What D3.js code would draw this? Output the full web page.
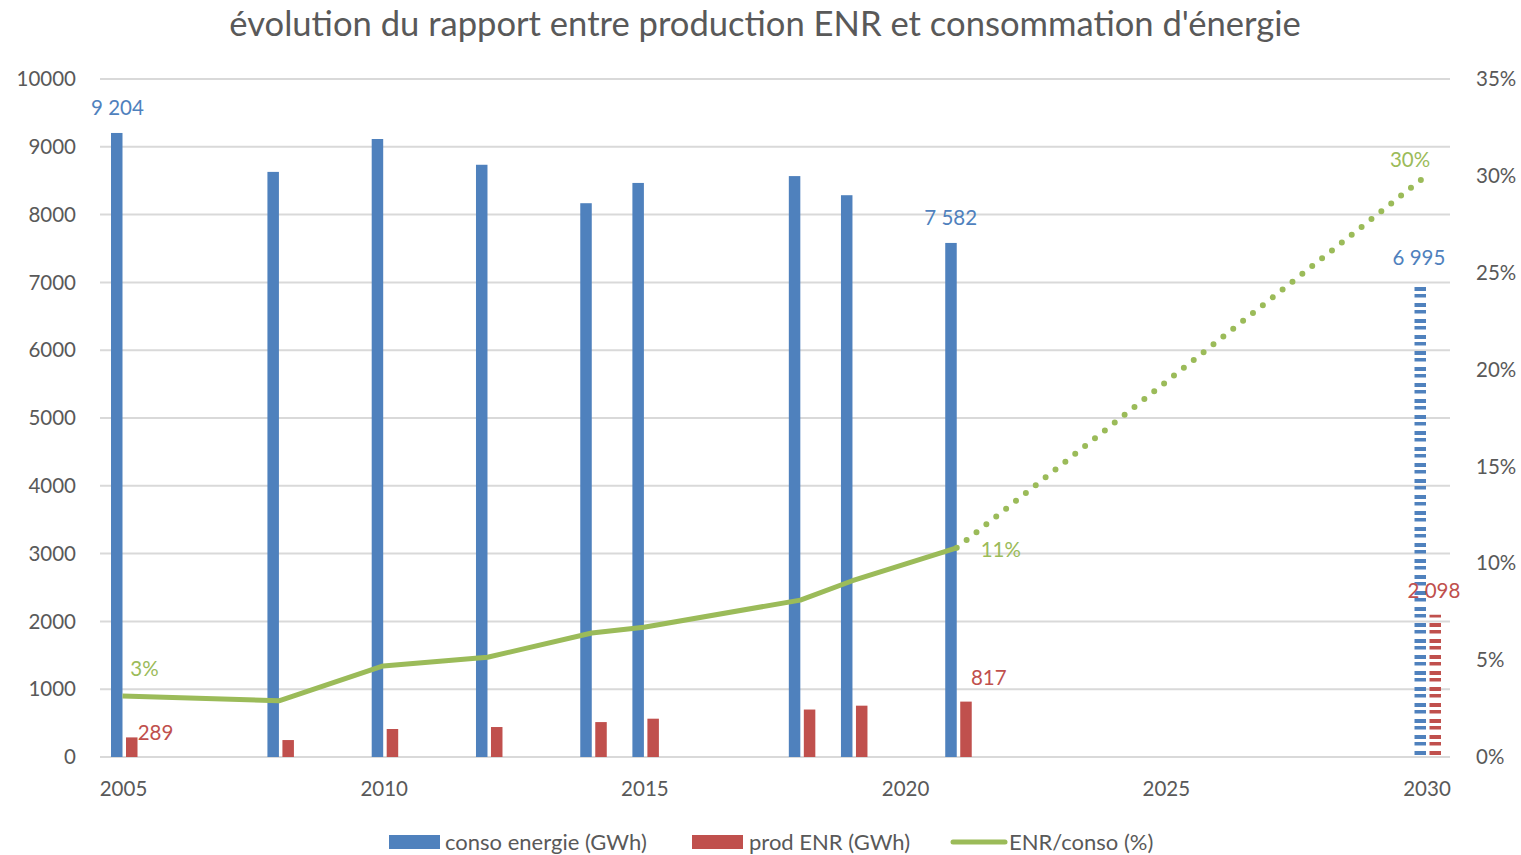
<!DOCTYPE html>
<html>
<head>
<meta charset="utf-8">
<script src="https://cdn.jsdelivr.net/npm/d3@7"></script>
<style>
  html, body { margin: 0; padding: 0; background: #fff; overflow: hidden; }
  svg { display: block; }
  svg text { font-family: Lato, "Open Sans", sans-serif; }
</style>
</head>
<body>
<div id="chart"></div>
<script>
// données
var years = [2005, 2008, 2010, 2012, 2014, 2015, 2018, 2019, 2021, 2030];
var conso = [9204, 8630, 9115, 8735, 8168, 8467, 8568, 8286, 7582, 6995];
var prod = [289, 250, 413, 442, 515, 565, 700, 757, 817, 2098];
var ratio = [3.15, 2.9, 4.7, 5.15, 6.4, 6.7, 8.1, 9.1, 10.8, 30];
var leftTicks = [0, 1000, 2000, 3000, 4000, 5000, 6000, 7000, 8000, 9000, 10000];
var rightTicks = [0, 5, 10, 15, 20, 25, 30, 35];
var xTicks = [2005, 2010, 2015, 2020, 2025, 2030];

var width = 1521, height = 855,
    margin = { top: 79, right: 71, bottom: 98, left: 100 },
    innerWidth = width - margin.left - margin.right,
    innerHeight = height - margin.top - margin.bottom;

var blue = "#4f81bd", red = "#c0504d", green = "#9bbb59", grey = "#595959";

var svg = d3.select("#chart").append("svg")
    .attr("width", width)
    .attr("height", height);

// motif rayé pour les barres 2030 (objectif)
var defs = svg.append("defs");
[["stripeBlue", blue], ["stripeRed", red]].forEach(function (p) {
    var pat = defs.append("pattern")
        .attr("id", p[0])
        .attr("patternUnits", "userSpaceOnUse")
        .attr("width", 20).attr("height", 16);
    pat.append("rect").attr("x", 0).attr("y", 0).attr("width", 20).attr("height", 4).attr("fill", p[1]);
    pat.append("rect").attr("x", 0).attr("y", 7).attr("width", 20).attr("height", 3.5).attr("fill", p[1]);
});

svg.append("text")
    .attr("x", 765).attr("y", 36)
    .attr("text-anchor", "middle")
    .attr("font-size", 34.6)
    .attr("fill", grey)
    .text("évolution du rapport entre production ENR et consommation d'énergie");

var g = svg.append("g")
    .attr("transform", "translate(" + margin.left + "," + margin.top + ")");

var xScale = d3.scaleLinear().domain([2005, 2030]).range([23.5, 1327]);
var yScale = d3.scaleLinear().domain([0, 10000]).range([innerHeight, 0]);
var y2Scale = d3.scaleLinear().domain([0, 35]).range([innerHeight, 0]);

// grille
g.selectAll(".grid").data(leftTicks).enter().append("line")
    .attr("class", "grid")
    .attr("x1", 0).attr("x2", innerWidth)
    .attr("y1", function (d) { return yScale(d); })
    .attr("y2", function (d) { return yScale(d); })
    .attr("stroke", "#d9d9d9")
    .attr("stroke-width", 2);

// axe gauche
g.selectAll(".ylab").data(leftTicks).enter().append("text")
    .attr("x", -24)
    .attr("y", function (d) { return yScale(d); })
    .attr("dy", "0.35em")
    .attr("text-anchor", "end")
    .attr("font-size", 20.5)
    .attr("fill", grey)
    .text(function (d) { return d; });

// axe droit
g.selectAll(".y2lab").data(rightTicks).enter().append("text")
    .attr("x", innerWidth + 26)
    .attr("y", function (d) { return y2Scale(d); })
    .attr("dy", "0.35em")
    .attr("text-anchor", "start")
    .attr("font-size", 20.5)
    .attr("fill", grey)
    .text(function (d) { return d + "%"; });

// axe x
g.selectAll(".xlab").data(xTicks).enter().append("text")
    .attr("x", function (d) { return xScale(d); })
    .attr("y", innerHeight + 39)
    .attr("text-anchor", "middle")
    .attr("font-size", 20.5)
    .attr("fill", grey)
    .text(function (d) { return d; });

var data = years.map(function (y, i) {
    return { year: y, conso: conso[i], prod: prod[i], ratio: ratio[i] };
});
var barW = 11.5;

g.selectAll(".bar.conso").data(data).enter().append("rect")
    .attr("class", "bar conso")
    .attr("x", function (d) { return xScale(d.year) - 12.5; })
    .attr("y", function (d) { return yScale(d.conso); })
    .attr("width", barW)
    .attr("height", function (d) { return innerHeight - yScale(d.conso); })
    .attr("fill", function (d) { return d.year === 2030 ? "url(#stripeBlue)" : blue; });

g.selectAll(".bar.prod").data(data).enter().append("rect")
    .attr("class", "bar prod")
    .attr("x", function (d) { return xScale(d.year) + 2.5; })
    .attr("y", function (d) { return yScale(d.prod); })
    .attr("width", barW)
    .attr("height", function (d) { return innerHeight - yScale(d.prod); })
    .attr("fill", function (d) { return d.year === 2030 ? "url(#stripeRed)" : red; });

// ligne ENR/conso : pleine jusqu'à 2021, pointillée vers l'objectif 2030
var line = d3.line()
    .x(function (d) { return xScale(d.year) - 1; })
    .y(function (d) { return y2Scale(d.ratio); });

var solid = data.filter(function (d) { return d.year <= 2021; });
var dotted = data.filter(function (d) { return d.year >= 2021; });

g.append("path").datum(dotted)
    .attr("d", line)
    .attr("fill", "none")
    .attr("stroke", green)
    .attr("stroke-width", 6)
    .attr("stroke-linecap", "round")
    .attr("stroke-dasharray", "0 12.6");

g.append("path").datum(solid)
    .attr("d", line)
    .attr("fill", "none")
    .attr("stroke", green)
    .attr("stroke-width", 5)
    .attr("stroke-linejoin", "round");

// étiquettes de données
function fmt(v) { return d3.format(",")(v).replace(",", " "); }

var labels = [
    { year: 2005, v: conso[0], axis: "l", dx: -6, dy: -18, color: blue, txt: fmt(conso[0]) },
    { year: 2021, v: conso[8], axis: "l", dx: -7, dy: -18, color: blue, txt: fmt(conso[8]) },
    { year: 2030, v: conso[9], axis: "l", dx: -8, dy: -18, color: blue, txt: fmt(conso[9]) },
    { year: 2005, v: prod[0], axis: "l", dx: 32, dy: 3, color: red, txt: fmt(prod[0]) },
    { year: 2021, v: prod[8], axis: "l", dx: 31, dy: -17, color: red, txt: fmt(prod[8]) },
    { year: 2030, v: prod[9], axis: "l", dx: 7, dy: -17, color: red, txt: fmt(prod[9]) },
    { year: 2005, v: ratio[0], axis: "r", dx: 21, dy: -20, color: green, txt: "3%" },
    { year: 2021, v: ratio[8], axis: "r", dx: 43, dy: 9, color: green, txt: "11%" },
    { year: 2030, v: ratio[9], axis: "r", dx: -17, dy: -9, color: green, txt: "30%" }
];

g.selectAll(".dlab").data(labels).enter().append("text")
    .attr("x", function (d) { return xScale(d.year) + d.dx; })
    .attr("y", function (d) { return (d.axis === "l" ? yScale(d.v) : y2Scale(d.v)) + d.dy; })
    .attr("text-anchor", "middle")
    .attr("font-size", 20.5)
    .attr("fill", function (d) { return d.color; })
    .text(function (d) { return d.txt; });

// légende
var legend = svg.append("g");
legend.append("rect").attr("x", 389).attr("y", 835).attr("width", 51).attr("height", 14).attr("fill", blue);
legend.append("text").attr("x", 445).attr("y", 850).attr("font-size", 22).attr("fill", grey).text("conso energie (GWh)");
legend.append("rect").attr("x", 692).attr("y", 835).attr("width", 51).attr("height", 14).attr("fill", red);
legend.append("text").attr("x", 749).attr("y", 850).attr("font-size", 22).attr("fill", grey).text("prod ENR (GWh)");
legend.append("line").attr("x1", 953).attr("x2", 1005).attr("y1", 842).attr("y2", 842)
    .attr("stroke", green).attr("stroke-width", 5).attr("stroke-linecap", "round");
legend.append("text").attr("x", 1009).attr("y", 850).attr("font-size", 22).attr("fill", grey).text("ENR/conso (%)");
</script>
</body>
</html>
